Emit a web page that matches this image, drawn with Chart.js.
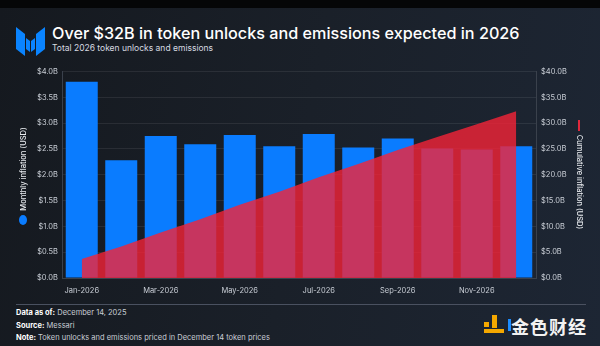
<!DOCTYPE html>
<html>
<head>
<meta charset="utf-8">
<script src="https://cdn.jsdelivr.net/npm/chart.js@4"></script>
<style>
  html, body { margin: 0; padding: 0; background: #000; }
  #page {
    position: relative; width: 600px; height: 346px; overflow: hidden;
    background: linear-gradient(100deg, #15191f 0%, #1a2029 50%, #1d2634 100%);
    font-family: Inter, "Liberation Sans", sans-serif; color: #fff;
  }
  #topband { position: absolute; left: 0; top: 0; width: 600px; height: 8px; background: #050607; }
  #logo { position: absolute; left: 16px; top: 24px; }
  #title { position: absolute; left: 52px; top: 23px; font-size: 16.2px; font-weight: 500; white-space: nowrap; }
  #subtitle { position: absolute; left: 52px; top: 43px; font-size: 8.5px; color: #d6dae0; white-space: nowrap; }
  #chartBox { position: absolute; left: 0; top: 62px; width: 600px; height: 237px; }
  .ytitle { position: absolute; font-size: 7.5px; color: #e8ebef; white-space: nowrap; font-weight: 500; }
  #ltitle { left: 23px; top: 169px; transform: translate(-50%, -50%) rotate(-90deg); }
  #rtitle { left: 579px; top: 182px; transform: translate(-50%, -50%) rotate(90deg); }
  #ldot { position: absolute; left: 19px; top: 215px; width: 8px; height: 10px; border-radius: 50%; background: #0a7cff; }
  #rline { position: absolute; left: 578px; top: 120px; width: 2px; height: 11px; background: #e0283c; }
  #rule { position: absolute; left: 16px; top: 304px; width: 570px; height: 1px; background: #4a5160; }
  .foot { position: absolute; left: 16px; font-size: 7.5px; color: #c9ced6; white-space: nowrap; }
  .foot b { color: #fff; font-weight: 700; }
  #wm { position: absolute; left: 484px; top: 315px; height: 18px; }
  #wmtext { position: absolute; left: 511px; top: 313px; font-family: "Noto Sans CJK SC", sans-serif; font-weight: 700; font-size: 18px; color: #f2f2f2; letter-spacing: 1px; }
</style>
</head>
<body>
<div id="page">
  <div id="topband"></div>
  <svg id="logo" width="29" height="32" viewBox="0 0 29 32">
    <polygon points="0,3 9,10 9,32 0,25" fill="#0a84ff"/>
    <polygon points="10,14 14,17 14,28 10,25" fill="#0a84ff"/>
    <polygon points="15,17 19,14 19,25 15,28" fill="#0a84ff"/>
    <polygon points="20,10 29,3 29,25 20,32" fill="#0a84ff"/>
  </svg>
  <div id="title">Over $32B in token unlocks and emissions expected in 2026</div>
  <div id="subtitle">Total 2026 token unlocks and emissions</div>

  <div id="chartBox"><canvas id="chart"></canvas></div>

  <div id="ltitle" class="ytitle">Monthly inflation (USD)</div>
  <div id="ldot"></div>
  <div id="rtitle" class="ytitle">Cumulative inflation (USD)</div>
  <div id="rline"></div>

  <div id="rule"></div>
  <div class="foot" style="top:308px"><b>Data as of:</b> December 14, 2025</div>
  <div class="foot" style="top:321px"><b>Source:</b> Messari</div>
  <div class="foot" style="top:333px"><b>Note:</b> Token unlocks and emissions priced in December 14 token prices</div>

  <svg id="wm" width="28" height="18" viewBox="0 0 28 18">
    <rect x="0" y="7" width="5" height="5" fill="#f5a800"/>
    <rect x="8" y="0" width="5" height="13" fill="#f5a800"/>
    <rect x="0" y="14" width="20" height="4" fill="#f5a800"/>
    <rect x="24" y="4" width="3" height="12" fill="#1a8cff"/>
  </svg>
  <div id="wmtext">金色财经</div>
</div>

<script>
const months = ["Jan-2026", "Feb-2026", "Mar-2026", "Apr-2026", "May-2026", "Jun-2026",
  "Jul-2026", "Aug-2026", "Sep-2026", "Oct-2026", "Nov-2026", "Dec-2026"];
// billions USD
const monthlyInflation = [3.80, 2.28, 2.75, 2.59, 2.77, 2.55, 2.79, 2.53, 2.70, 2.51, 2.49, 2.55];
const cumulativeInflation = [3.7, 6.1, 8.8, 11.4, 14.2, 16.7, 19.5, 22.1, 24.8, 27.3, 29.8, 32.3];

const tickColor = "#c9ced6";
const tickFont = { family: "Inter, 'Liberation Sans', sans-serif", size: 7.5 };

new Chart(document.getElementById("chart"), {
  data: {
    labels: months,
    datasets: [
      {
        type: "line",
        label: "Cumulative inflation (USD)",
        data: cumulativeInflation,
        yAxisID: "y1",
        fill: "origin",
        backgroundColor: "rgba(245, 35, 55, 0.8)",
        borderWidth: 0,
        pointRadius: 0,
        tension: 0,
        order: 0,
      },
      {
        type: "bar",
        label: "Monthly inflation (USD)",
        data: monthlyInflation,
        yAxisID: "y",
        backgroundColor: "#0a7cff",
        categoryPercentage: 1,
        barPercentage: 0.81,
        order: 1,
      },
    ],
  },
  options: {
    responsive: true,
    maintainAspectRatio: false,
    animation: false,
    layout: { padding: { top: 4, bottom: 4 } },
    plugins: { legend: { display: false }, tooltip: { enabled: false } },
    scales: {
      x: {
        grid: { display: false },
        border: { color: "#3a414c" },
        ticks: {
          color: tickColor, font: tickFont, maxRotation: 0, autoSkip: false, padding: 0,
          callback: (v, i) => (i % 2 === 0 ? months[i] : ""),
        },
      },
      y: {
        position: "left",
        min: 0, max: 4,
        afterFit: (s) => { s.width = 62; },
        grid: { color: "rgba(255,255,255,0.08)", drawTicks: false },
        border: { color: "#3a414c" },
        ticks: {
          stepSize: 0.5, color: tickColor, font: tickFont, padding: 4,
          callback: (v) => "$" + v.toFixed(1) + "B",
        },
      },
      y1: {
        position: "right",
        min: 0, max: 40,
        afterFit: (s) => { s.width = 64; },
        grid: { display: false, drawTicks: false },
        border: { color: "#3a414c" },
        ticks: {
          stepSize: 5, color: tickColor, font: tickFont, padding: 5,
          callback: (v) => "$" + v.toFixed(1) + "B",
        },
      },
    },
  },
});
</script>
</body>
</html>
